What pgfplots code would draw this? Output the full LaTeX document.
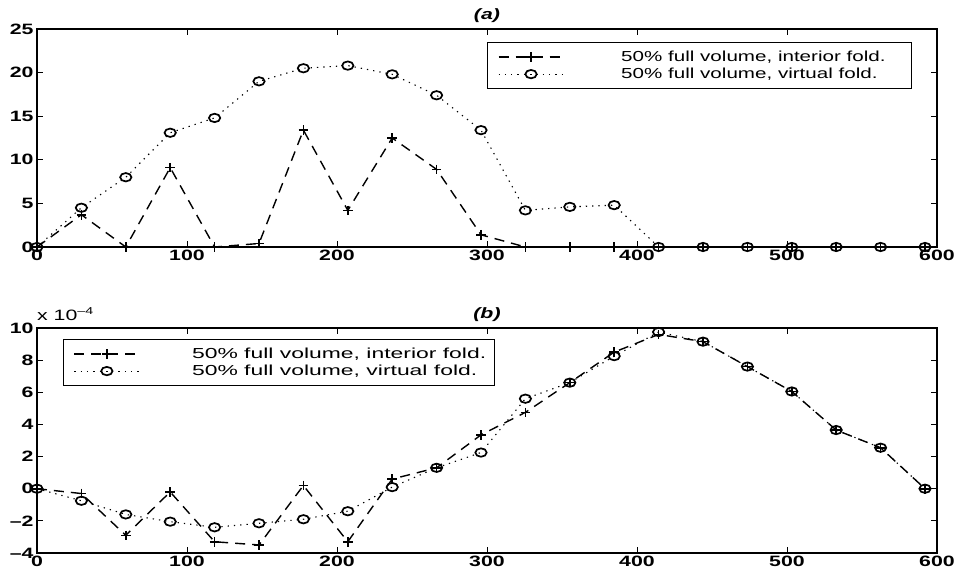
\documentclass[border=0pt]{standalone}
\usepackage{fontspec}
\setmainfont{Liberation Sans}[FakeStretch=1.42]
\newfontfamily\legbfont{Liberation Sans}[FakeStretch=1.58]
\usepackage{pgfplots}
\usepackage{pgfplotstable}
\pgfplotsset{compat=1.18}

% panel (a): interior / virtual fold
\pgfplotstableread{
x      int    virt
0      0      0
29.6   3.7    4.5
59.2   0      8.0
88.8   9.1    13.1
118.4  0      14.8
148.0  0.4    19.0
177.6  13.4   20.5
207.2  4.2    20.8
236.8  12.5   19.8
266.4  8.9    17.4
296.0  1.4    13.4
325.6  0      4.2
355.2  0      4.6
384.8  0      4.8
414.4  0      0
444.0  0      0
473.6  0      0
503.2  0      0
532.8  0      0
562.4  0      0
592.0  0      0
}\taba

% panel (b), in units of 1e-4
\pgfplotstableread{
x      int    virt
0      0      0
29.6   -0.3   -0.75
59.2   -2.9   -1.6
88.8   -0.2   -2.05
118.4  -3.3   -2.4
148.0  -3.5   -2.15
177.6  0.2    -1.9
207.2  -3.3   -1.4
236.8  0.6    0.1
266.4  1.3    1.3
296.0  3.35   2.25
325.6  4.75   5.6
355.2  6.6    6.6
384.8  8.5    8.25
414.4  9.6    9.75
444.0  9.15   9.15
473.6  7.6    7.6
503.2  6.05   6.05
532.8  3.65   3.65
562.4  2.55   2.55
592.0  0      0
}\tabb

\pgfplotsset{
  matstyle/.style={
    scale only axis, width=900bp, clip=false,
    xmin=0, xmax=600, xtick={0,100,...,600},
    tick align=inside, major tick length=6bp,
    tick style={line width=1bp, black},
    axis line style={line width=1.5bp},
    ticklabel style={font=\fontsize{15bp}{17bp}\selectfont\bfseries},
    /pgf/number format/assume math mode=true,
    title style={font=\fontsize{15bp}{17bp}\selectfont\bfseries\itshape, yshift=-3bp},
    legend cell align=left,
    legend style={draw=black, line width=1.1bp, inner xsep=10bp, inner ysep=6bp,
      column sep=55bp,
      nodes={inner xsep=2bp, inner ysep=1.5bp, text height=11bp, text depth=3bp}},
    legend image code/.code={
      \draw[mark repeat=2,mark phase=2,##1] plot coordinates {(0bp,0bp) (32.5bp,0bp) (65bp,0bp)};
    },
  },
  intstyle/.style={black, line width=1.4bp, dash pattern=on 10bp off 7bp,
    mark=+, mark size=4.8bp, mark options={solid, line width=1.6bp}},
  virtstyle/.style={black, line width=1.1bp, dash pattern=on 1.3bp off 5bp,
    mark=o, mark size=4.2bp, mark options={solid, line width=1.7bp, xscale=1.35}},
}

\begin{document}
\begin{tikzpicture}
\path[use as bounding box] (0,0) rectangle (962bp,576bp);

\begin{axis}[matstyle, at={(37bp,329bp)}, anchor=south west,
  height=218bp, ymin=0, ymax=25, ytick={0,5,...,25},
  title={(a)},
  legend style={at={(0.972,0.94)}, anchor=north east, font=\fontsize{14.5bp}{17bp}\selectfont},
]
\addplot[intstyle] table[x=x, y=int] {\taba};
\addlegendentry{\makebox[278bp][l]{50\% full volume, interior fold.}}
\addplot[virtstyle] table[x=x, y=virt] {\taba};
\addlegendentry{\makebox[278bp][l]{50\% full volume, virtual fold.}}
\end{axis}

\begin{axis}[matstyle, at={(37bp,23bp)}, anchor=south west,
  height=225bp, ymin=-4, ymax=10, ytick={-4,-2,...,10},
  yticklabels={\textendash4,\textendash2,0,2,4,6,8,10},
  title={(b)},
  legend style={at={(0.029,0.951)}, anchor=north west, column sep=50bp,
    font=\legbfont\fontsize{14.5bp}{17bp}\selectfont},
]
\addplot[intstyle] table[x=x, y=int] {\tabb};
\addlegendentry{\makebox[290bp][l]{50\% full volume, interior fold.}}
\addplot[virtstyle] table[x=x, y=virt] {\tabb};
\addlegendentry{\makebox[290bp][l]{50\% full volume, virtual fold.}}
\node[anchor=base west, font=\fontsize{15bp}{17bp}\selectfont, inner sep=0pt]
  at (rel axis cs:0,1) [yshift=7bp] {x 10\raisebox{6bp}{\fontsize{10bp}{10bp}\selectfont\textendash4}};
\end{axis}
\end{tikzpicture}
\end{document}
